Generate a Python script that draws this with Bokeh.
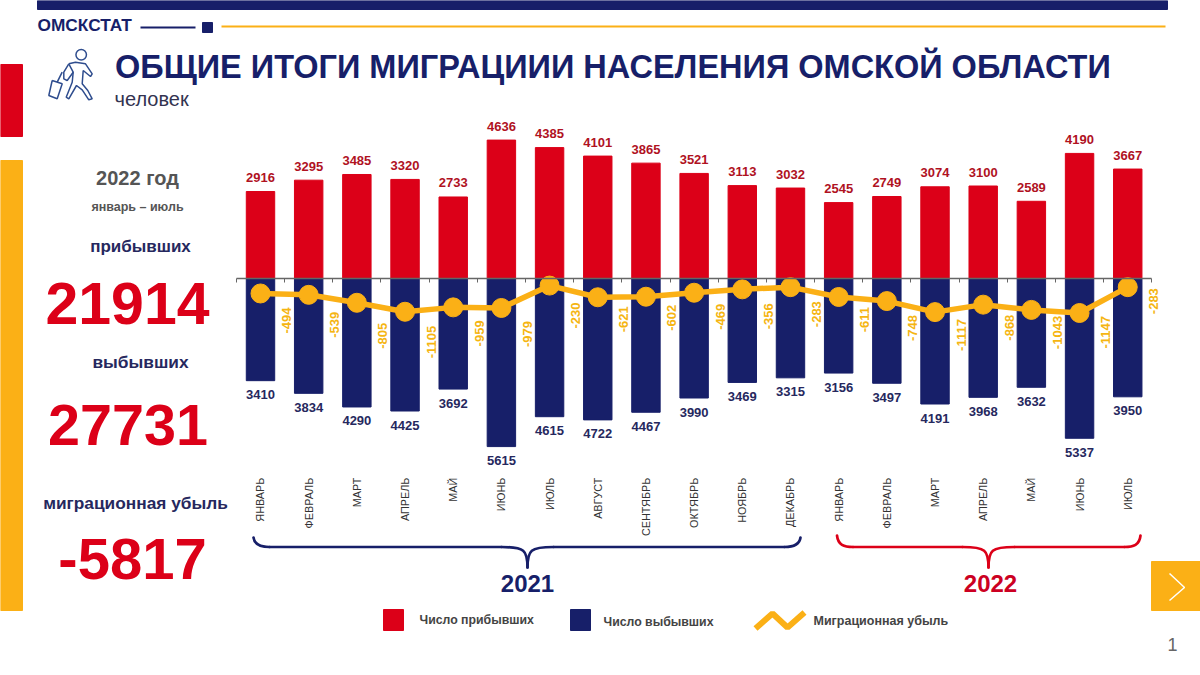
from math import pi
from bokeh.plotting import figure
from bokeh.models import ColumnDataSource, Range1d, LinearAxis, FixedTicker
from bokeh.core.properties import value
from bokeh.embed import file_html
from bokeh.resources import INLINE

months = ["ЯНВАРЬ","ФЕВРАЛЬ","МАРТ","АПРЕЛЬ","МАЙ","ИЮНЬ","ИЮЛЬ","АВГУСТ","СЕНТЯБРЬ","ОКТЯБРЬ","НОЯБРЬ","ДЕКАБРЬ",
          "ЯНВАРЬ","ФЕВРАЛЬ","МАРТ","АПРЕЛЬ","МАЙ","ИЮНЬ","ИЮЛЬ"]
arrived = [2916,3295,3485,3320,2733,4636,4385,4101,3865,3521,3113,3032,2545,2749,3074,3100,2589,4190,3667]
departed = [3410,3834,4290,4425,3692,5615,4615,4722,4467,3990,3469,3315,3156,3497,4191,3968,3632,5337,3950]
net = [-494,-539,-805,-1105,-959,-979,-230,-621,-602,-469,-356,-283,-611,-748,-1117,-868,-1043,-1147,-283]

# layout: label gaps in pixels
net_label_gap = [14,17,20,14,13,13,17,9,8,11,14,14,10,14,7,10,6,3,1]

RED="#DC0018"; NAVY="#171F69"; ORANGE="#FBB016"; DARKRED="#B0121F"; NAVYTXT="#26285E"; LABEL="#F5B512"; GRAY="#555555"
F = value("Liberation Sans")

# page geometry: x index -> px and value -> px
X0, DX = 260.0, 48.18
Y0, K = 278.2, 0.0299
x_range = Range1d(-X0/DX, (1200-X0)/DX)
y_range = Range1d((Y0-675)/K, Y0/K)

p = figure(width=1200, height=675, x_range=x_range, y_range=y_range, x_axis_type=None, y_axis_type=None,
           output_backend="svg", toolbar_location=None, min_border=0, outline_line_color=None)
p.grid.visible = False
p.extra_x_ranges["page"] = Range1d(0, 1200)
p.extra_y_ranges["page"] = Range1d(675, 0)
pg = dict(x_range_name="page", y_range_name="page")

idx = list(range(len(months)))
src = ColumnDataSource(dict(x=idx, arrived=arrived, dep=[-d for d in departed], net=net,
                            al=[str(v) for v in arrived], dl=[str(v) for v in departed], nl=[str(v) for v in net],
                            gap=net_label_gap))

p.vbar(x="x", top="arrived", bottom=0, width=0.59, color=RED, source=src)
p.vbar(x="x", top="dep", bottom=0, width=0.59, color=NAVY, source=src)

# axes
ax = LinearAxis(fixed_location=0, ticker=FixedTicker(ticks=[i-0.5 for i in range(len(months)+1)]), bounds=(-0.5, 18.5))
ax.major_label_text_font_size="0px"; ax.major_label_text_color=None
ax.axis_line_color="#666666"; ax.axis_line_width=1.5; ax.major_tick_line_color="#666666"
ax.major_tick_in=0; ax.major_tick_out=4; ax.minor_tick_line_color=None
p.add_layout(ax,"below")
ax2 = LinearAxis(fixed_location=0, ticker=FixedTicker(ticks=idx),
                 major_label_overrides={i:m for i,m in enumerate(months)})
ax2.axis_line_color=None; ax2.major_tick_line_color=None; ax2.minor_tick_line_color=None
ax2.major_label_orientation=pi/2; ax2.major_label_standoff=193
ax2.major_label_text_font="Liberation Sans"; ax2.major_label_text_font_size="10.8px"; ax2.major_label_text_color="#333333"
p.add_layout(ax2,"below")

p.line("x","net",line_color=ORANGE,line_width=5.5,source=src)
p.scatter("x","net",size=19,color=ORANGE,source=src)

p.text("x","arrived",text="al",source=src,text_font=F,text_font_size="13px",text_font_style="bold",text_color=DARKRED,
       text_align="center",text_baseline="middle",y_offset=-14)
p.text("x","dep",text="dl",source=src,text_font=F,text_font_size="13px",text_font_style="bold",text_color=NAVYTXT,
       text_align="center",text_baseline="middle",y_offset=14)
p.text("x","net",text="nl",source=src,text_font=F,text_font_size="13px",text_font_style="bold",text_color=LABEL,
       text_align="right",text_baseline="middle",angle=pi/2,x_offset=26,y_offset={"field":"gap"})

# page decoration in pixels
def rect(x0,y0,x1,y1,c):
    p.quad(left=[x0],right=[x1],top=[y0],bottom=[y1],color=c,**pg)
def txt(x,y,s,size,c,bold=True,align="center"):
    p.text([x],[y],text=[s],text_font=F,text_font_size=f"{size}px",text_font_style="bold" if bold else "normal",
           text_color=c,text_align=align,text_baseline="middle",**pg)

rect(37,0,1167,9,NAVY)
rect(0,64,22,136,RED)
rect(0,160,22,610,ORANGE)
txt(37,24.5,"ОМСКСТАТ",17.3,NAVY,align="left")
p.line([140,195],[27,27],line_color=NAVY,line_width=2,**pg)
rect(202,22,212,32,NAVY)
p.line([221,1165],[26,26],line_color=ORANGE,line_width=2,**pg)
txt(114.5,66,"ОБЩИЕ ИТОГИ МИГРАЦИИИ НАСЕЛЕНИЯ ОМСКОЙ ОБЛАСТИ",32.5,NAVY,align="left")
txt(114,98,"человек",20,"#333350",bold=False,align="left")

# icon
ic = "#2F4D8E"
p.scatter([80.7],[54.3],size=10.5,fill_color=None,line_color=ic,line_width=1.5,**pg)
p.multi_line([[68.3,75,85,91.7,90,82.7,81.7,87.3,91.7,88.3,81.7,76,68.3,65.7,71.7,72.7,68.3],
              [68.3,63.3,63.3,66.7,72.7],
              [51.7,61.7,56.7,48.3,51.7],
              [56.7,61.7]],
             [[63.3,61.7,63.3,73.3,76,70,83.3,90,98.3,99.3,89.3,85,98.3,96.7,81.7,71.7,63.3],
              [63.3,71.7,78.3,80,71.7],
              [80,83.3,98.3,95,80],
              [81.7,71.7]],line_color=ic,line_width=1.5,**pg)

# left panel
txt(137,177.5,"2022 год",20,GRAY)
txt(137,206,"январь – июль",12.5,GRAY)
txt(140,246,"прибывших",17,NAVYTXT)
txt(127,303,"21914",59,RED)
txt(140,361,"выбывших",17.3,NAVYTXT)
txt(127.5,424.5,"27731",57.5,RED)
txt(135,502,"миграционная убыль",17.3,NAVYTXT)
txt(132,558.5,"-5817",58,RED)

# braces
def brace(x0,x1,tip,y0,y1,y2,c):
    kw=dict(line_color=c,line_width=2.7,line_cap="round",**pg)
    p.bezier(x0=[x0,tip],y0=[y0,y2],x1=[x0+16,tip-26],y1=[y1,y1],cx0=[x0+1,tip],cy0=[y1-2,y1+3],cx1=[x0+7,tip-3],cy1=[y1,y1],**kw)
    p.bezier(x0=[x1,tip],y0=[y0,y2],x1=[x1-16,tip+26],y1=[y1,y1],cx0=[x1-1,tip],cy0=[y1-2,y1+3],cx1=[x1-7,tip+3],cy1=[y1,y1],**kw)
    p.multi_line([[x0+16,tip-26],[tip+26,x1-16]],[[y1,y1],[y1,y1]],**kw)
brace(253,800,527,537,546.5,567,NAVY)
brace(836.5,1140,988,535,546.5,567,RED)
txt(527,583,"2021",24,NAVY)
txt(990,583,"2022",24,"#CC0022")

# legend
rect(383,609,403,630,RED)
txt(419,619.5,"Число прибывших",12.3,"#444444",align="left")
rect(570,609,590,630,NAVY)
txt(603,621.5,"Число выбывших",12.3,"#444444",align="left")
p.line([755,772,787,804],[628,613,627,612],line_color=ORANGE,line_width=6,**pg)
txt(813,620,"Миграционная  убыль",12.5,"#444444",align="left")

# next button and page number
rect(1151,561,1200,610,ORANGE)
p.line([1169,1184,1169],[573,587,600],line_color="#FFFFFF",line_width=1.5,**pg)
txt(1172,644,"1",18,"#666666",bold=False)

open("out.html","w").write(file_html(p, INLINE))
